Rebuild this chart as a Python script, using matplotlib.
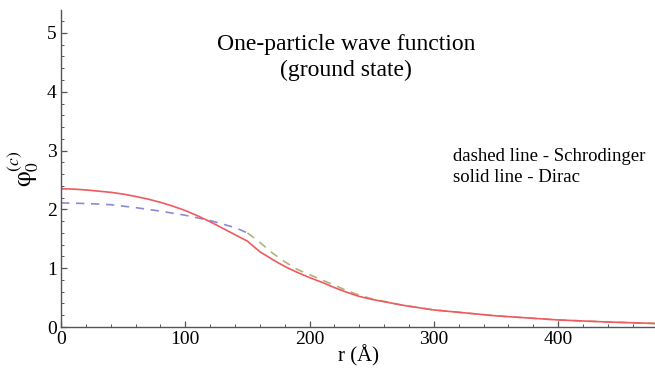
import matplotlib
matplotlib.use("Agg")
import matplotlib.pyplot as plt
from matplotlib.ticker import MultipleLocator

plt.rcParams['font.family'] = ['Liberation Serif', 'DejaVu Serif']
plt.rcParams['mathtext.fontset'] = 'stix'

# Dirac (solid)
r_dirac = [0, 10, 20, 30, 40, 50, 60, 70, 80, 90, 100, 110, 120, 130, 140, 150, 160,
           170, 180, 190, 200, 210, 220, 230, 240, 250, 275, 300, 325, 350, 375, 400,
           440, 478]
phi_dirac = [2.35, 2.345, 2.33, 2.31, 2.29, 2.26, 2.22, 2.175, 2.12, 2.055, 1.98, 1.89,
             1.79, 1.68, 1.57, 1.46, 1.28, 1.15, 1.03, 0.93, 0.84, 0.76, 0.67, 0.59,
             0.52, 0.47, 0.37, 0.29, 0.24, 0.19, 0.155, 0.12, 0.085, 0.06]

# Schrodinger (dashed), inner region
r_sch_in = [0, 20, 40, 60, 80, 100, 120, 140, 150]
phi_sch_in = [2.11, 2.10, 2.08, 2.03, 1.97, 1.90, 1.81, 1.69, 1.60]

# Schrodinger (dashed), outer region
r_sch_out = [150, 160, 170, 180, 190, 200, 210, 220, 230, 240, 250, 275, 300, 325,
             350, 375, 400, 440, 478]
phi_sch_out = [1.60, 1.44, 1.26, 1.11, 0.98, 0.89, 0.80, 0.71, 0.62, 0.54, 0.48, 0.37,
               0.29, 0.24, 0.19, 0.155, 0.12, 0.085, 0.06]

fig = plt.figure(figsize=(6.55, 3.69), dpi=100)
ax = fig.add_axes([61/655, 1 - 327/369, 1 - 61/655, (327 - 10)/369])

ax.plot(r_sch_out, phi_sch_out, color='#b5b07a', lw=1.2, ls=(0, (5, 4)))
ax.plot(r_sch_in, phi_sch_in, color='#8a8ad6', lw=1.2, ls=(0, (5, 4)))
ax.plot(r_dirac, phi_dirac, color='#f05a5f', lw=1.2)

ax.set_xlim(0, 478)
ax.set_ylim(0, 5.39)
ax.xaxis.set_major_locator(MultipleLocator(100))
ax.xaxis.set_minor_locator(MultipleLocator(20))
ax.yaxis.set_major_locator(MultipleLocator(1))
ax.yaxis.set_minor_locator(MultipleLocator(0.2))

for s in ['top', 'right']:
    ax.spines[s].set_visible(False)
for s in ['left', 'bottom']:
    ax.spines[s].set_color('#555555')
    ax.spines[s].set_linewidth(1.0)

ax.tick_params(which='major', direction='in', length=4, width=0.9, color='#555555',
               labelsize=14, pad=3)
ax.tick_params(which='minor', direction='in', length=2, width=0.7, color='#555555')

ax.set_xlabel('r (Å)', fontsize=15, labelpad=-2)
ax.set_ylabel(r'$\mathrm{\varphi}_0^{(c)}$', fontsize=18, labelpad=4)

ax.text(0.48, 0.85, 'One-particle wave function\n(ground state)', transform=ax.transAxes,
        ha='center', va='center', fontsize=17, linespacing=1.3)
ax.text(0.66, 0.505, 'dashed line - Schrodinger\nsolid line - Dirac', transform=ax.transAxes,
        ha='left', va='center', fontsize=13.5, linespacing=1.35)

fig.savefig('out.png', dpi=100)
